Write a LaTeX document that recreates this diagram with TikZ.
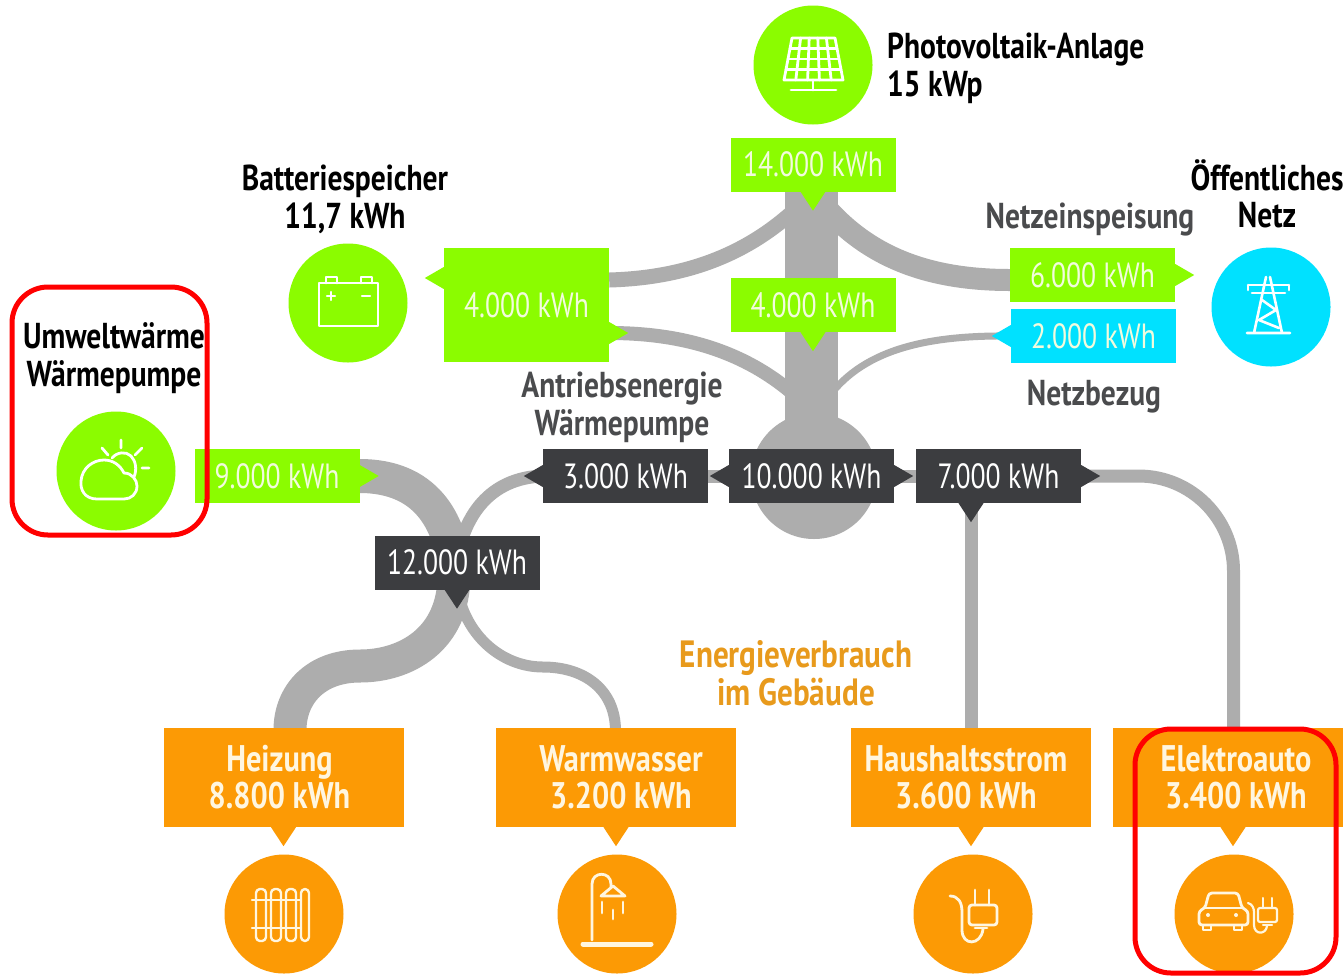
\documentclass[tikz,border=0pt]{standalone}
\usepackage{fontspec}
\setmainfont[FakeStretch=0.79,BoldFeatures={FakeStretch=0.82}]{PT Sans}
\usetikzlibrary{calc,backgrounds}
\definecolor{gn}{HTML}{8BFC00}
\definecolor{og}{HTML}{FC9A05}
\definecolor{bl}{HTML}{00E1FF}
\definecolor{gy}{HTML}{ADADAD}
\definecolor{dk}{HTML}{3C3D40}
\definecolor{tx}{HTML}{4A4B4D}
\definecolor{ot}{HTML}{E89A1C}
\definecolor{lgn}{HTML}{F2FBDD}
\definecolor{cr}{HTML}{FFF6E0}
\newcommand\tipD[3]{\fill[#1] ([xshift={#3pt-12.5pt}]#2.south) -- ([xshift={#3pt+12.5pt}]#2.south) -- ([xshift={#3pt},yshift=-19pt]#2.south) -- cycle;}
\newcommand\tipE[3]{\fill[#1] ([yshift={#3pt-11pt}]#2.east) -- ([yshift={#3pt+11pt}]#2.east) -- ([yshift={#3pt},xshift=19pt]#2.east) -- cycle;}
\newcommand\tipW[3]{\fill[#1] ([yshift={#3pt-11pt}]#2.west) -- ([yshift={#3pt+11pt}]#2.west) -- ([yshift={#3pt},xshift=-19pt]#2.west) -- cycle;}
\tikzset{
 flow/.style={draw=gy,line cap=butt},
 valbox/.style={inner sep=0pt,minimum width=165pt,minimum height=54pt,text=lgn,font=\fontsize{35}{37}\selectfont},
 greenbox/.style={valbox,fill=gn},
 darkbox/.style={valbox,fill=dk,text=white},
 bluebox/.style={valbox,fill=bl},
 usebox/.style={inner sep=0pt,minimum width=240pt,minimum height=99pt,fill=og,text=cr,align=center,font=\fontsize{37}{37}\selectfont\bfseries},
 icondisc/.style={circle,minimum size=119pt,inner sep=0pt},
 head/.style={align=center,text=black,font=\fontsize{36}{38}\selectfont\bfseries,inner sep=0pt},
 sub/.style={align=center,text=tx,font=\fontsize{36}{38}\selectfont\bfseries,inner sep=0pt},
 ico/.style={draw=white,line width=2.8pt,line cap=round,line join=round},
 icoo/.style={draw=cr,line width=2.8pt,line cap=round,line join=round},
 redframe/.style={draw=red,line width=5pt,rounded corners=36pt,inner sep=0pt}
}
\begin{document}
\begin{tikzpicture}[x=1pt,y=-1pt]
\useasboundingbox (0,0) rectangle (1343,975);
% value boxes
\node[greenbox] (g14) at (813,164.5) {14.000 kWh};
\tipD{gn}{g14}{0}
\node[greenbox] (g4m) at (813,305) {4.000 kWh};
\tipD{gn}{g4m}{0}
\node[greenbox] (g6) at (1092.5,275) {6.000 kWh};
\tipE{gn}{g6}{0}
\node[bluebox] (b2) at (1093.5,336) {2.000 kWh};
\tipW{bl}{b2}{0}
\node[greenbox,minimum height=114pt] (g4l) at (526.5,305) {4.000 kWh};
\tipW{gn}{g4l}{27}
\tipE{gn}{g4l}{-28}
\node[greenbox] (g9) at (277,476) {9.000 kWh};
\tipE{gn}{g9}{0}
\node[darkbox] (d12) at (457,562.5) {12.000 kWh};
\tipD{dk}{d12}{0}
\node[darkbox] (d3) at (625.5,476) {3.000 kWh};
\tipW{dk}{d3}{0}
\node[darkbox] (d10) at (811.5,476) {10.000 kWh};
\tipW{dk}{d10}{0}
\tipE{dk}{d10}{0}
\node[darkbox] (d7) at (998.5,476) {7.000 kWh};
\tipE{dk}{d7}{0}
\tipD{dk}{d7}{-27.5}
% consumer boxes
\node[usebox] (heiz) at (283.5,777.5) {\hspace*{-8pt}Heizung\\\hspace*{-8pt}8.800 kWh};
\tipD{og}{heiz}{0}
\node[usebox] (warm) at (616,777.5) {\hspace*{10pt}Warmwasser\\\hspace*{10pt}3.200 kWh};
\tipD{og}{warm}{0}
\node[usebox] (haus) at (971,777.5) {\hspace*{-10pt}Haushaltsstrom\\\hspace*{-10pt}3.600 kWh};
\tipD{og}{haus}{0}
\node[usebox] (elek) at (1233,777.5) {\hspace*{6pt}Elektroauto\\\hspace*{6pt}3.400 kWh};
\tipD{og}{elek}{0}
\fill[og] (elek.north east) rectangle (1343,827);
% junction points of the flows
\coordinate (jr) at (822,203);
\coordinate (jl) at (800,205);
\coordinate (jl2) at (798,398);
\coordinate (jb) at (825,402);
\coordinate (x12) at (455,570);
\coordinate (x12b) at (454,575);
\coordinate (x12c) at (459,597);
\coordinate (hmid) at (360,666);
\coordinate (wmid) at (543,667);
\coordinate (heizin) at (290,730);
\coordinate (warmin) at (615.5,730);
\coordinate (elin) at (1233.5,730);
% flows behind the boxes
\begin{scope}[on background layer]
\fill[white] (0,0) rectangle (1343,975);
\node[fill=gy,inner sep=0pt,minimum width=53pt,minimum height=249pt] (bar) at (811.5,315) {};
\node[circle,fill=gy,inner sep=0pt,minimum size=126pt] (hub) at (814,476) {};
\draw[flow,line width=22pt] (jr) .. controls (868,258) and (930,280) .. ([yshift=-5pt]g6.west);
\draw[flow,line width=15pt] ([yshift=25pt]g4l.east) .. controls (680,278) and (745,258) .. (jl);
\draw[flow,line width=14pt] ([yshift=-28pt]g4l.east) .. controls (680,333) and (745,350) .. (jl2);
\draw[flow,line width=7pt] (b2.west) .. controls (925,335) and (860,350) .. (jb);
\draw[flow,line width=13pt] (d3.east) -- (d10.west);
\draw[flow,line width=13pt] (d10.east) -- (d7.west);
\draw[flow,line width=13pt] (d7.south -| haus.north) -- (haus.north);
\draw[flow,line width=13pt,rounded corners=95pt] (d7.east) -| (elin);
\draw[flow,line width=34pt] (g9.east) .. controls (425,476) and (450,520) .. (x12);
\draw[flow,line width=33pt] (x12b) .. controls (454,640) and (405,666) .. (hmid) .. controls (315,666) and (290,695) .. (heizin);
\draw[flow,line width=13pt] (d3.west) .. controls (490,478) and (462,515) .. (x12);
\draw[flow,line width=11pt] (x12c) .. controls (470,640) and (505,667) .. (wmid) .. controls (585,667) and (615,690) .. (warmin);
\end{scope}
% discs
\node[icondisc,fill=gn] (pv) at (813,65) {};
\node[icondisc,fill=gn] (bat) at (348,303) {};
\node[icondisc,fill=gn] (env) at (116,471) {};
\node[icondisc,fill=bl] (grid) at (1271,307) {};
\node[icondisc,fill=og] (c1) at (284,914) {};
\node[icondisc,fill=og] (c2) at (617,914) {};
\node[icondisc,fill=og] (c3) at (973,914) {};
\node[icondisc,fill=og] (c4) at (1234,914) {};
% panel
\draw[ico] (792,38) -- (835,38) -- (843,80) -- (784,80) -- cycle;
\foreach \t in {0.25,0.5,0.75}{\draw[ico] ($(792,38)!\t!(784,80)$) -- ($(835,38)!\t!(843,80)$);}
\foreach \t in {0.2,0.4,0.6,0.8}{\draw[ico] ($(792,38)!\t!(835,38)$) -- ($(784,80)!\t!(843,80)$);}
\draw[ico] (813,80) -- (813,90) (791,90) -- (836,90);
% battery
\draw[ico] (319,283) rectangle (378,326);
\draw[ico] (326,283) -- (326,277) -- (337,277) -- (337,283) (361,283) -- (361,277) -- (372,277) -- (372,283);
\draw[ico,line width=2.2pt] (327,296) -- (335,296) (331,292) -- (331,300) (362,296) -- (370,296);
% cloud
\draw[ico] (97,499) .. controls (85,499) and (80,490) .. (81,481) .. controls (82,468) and (93,460) .. (104,460) .. controls (113,460) and (120,465) .. (124,473) .. controls (132,473) and (137,480) .. (137,486) .. controls (137,494) and (131,499) .. (124,499) -- cycle;
\draw[ico] (112,458) .. controls (117,452) and (126,451) .. (131,456) .. controls (136,461) and (137,470) .. (134,477);
\draw[ico] (121,440) -- (121,448) (102,448) -- (108,455) (142,448) -- (135,455) (142,468) -- (149,468);
% tower
\draw[ico,line width=2.6pt] (1266,277) -- (1254,333) (1270,277) -- (1282,333) (1247,333) -- (1290,333);
\draw[ico,line width=2.6pt] (1248,285) -- (1289,285) (1252,293) -- (1285,293) (1248,285) -- (1248,290) (1289,285) -- (1289,290);
\draw[ico,line width=2.6pt] (1262,300) -- (1276,310) -- (1259,320) -- (1279,328);
% radiator
\foreach \a/\b in {256/266,271/281,286/296,301/309}{\draw[icoo,line width=2.4pt,rounded corners=4pt] (\a,889) rectangle (\b,941);}
\draw[icoo,line width=2.4pt] (252,900) -- (301,900) (252,928) -- (301,928);
% shower
\draw[icoo] (592,940) -- (592,884) .. controls (592,871) and (611,871) .. (611,884) -- (611,887);
\draw[icoo] (613,886) -- (601,896) -- (625,896) -- cycle;
\draw[icoo] (602,902) -- (602,913) (613,910) -- (613,919) (623,902) -- (623,913);
\draw[icoo,line width=5pt] (583,944) -- (651,944);
% plug
\draw[icoo] (975,890) -- (975,905) (989,890) -- (989,905);
\draw[icoo,rounded corners=3pt] (969,905) rectangle (997,925);
\draw[icoo] (975,928) -- (987,928);
\draw[icoo] (950,896) .. controls (958,896) and (962,902) .. (962,912) -- (962,930) .. controls (962,946) and (981,946) .. (983,929);
% car
\draw[icoo,rounded corners=3pt] (1199,925) -- (1199,911) -- (1205,908) -- (1209,893) -- (1238,893) -- (1242,908) -- (1248,911) -- (1248,925) -- cycle;
\draw[icoo] (1205,908) -- (1242,908);
\draw[icoo] (1203,926) -- (1203,930) -- (1211,930) -- (1211,926) (1234,926) -- (1234,930) -- (1242,930) -- (1242,926);
\fill[cr] (1208,915) circle (2pt) (1236,915) circle (2pt);
\draw[icoo,line width=2.2pt] (1263,898) -- (1263,908) (1272,898) -- (1272,908);
\draw[icoo,line width=2.2pt,rounded corners=2pt] (1258,908) rectangle (1277,922);
\draw[icoo,line width=2.2pt] (1263,925) -- (1272,925);
\draw[icoo,line width=2.2pt] (1248,903) .. controls (1252,904) and (1254,908) .. (1254,912) -- (1254,925) .. controls (1254,935) and (1266,935) .. (1267,926);
% labels
\node[head,anchor=west] (lpv) at (887,70) {\begin{tabular}{@{}l@{}}Photovoltaik-Anlage\\15 kWp\end{tabular}};
\node[head] (lbat) at (345,199) {Batteriespeicher\\11,7 kWh};
\node[head,font=\fontsize{36}{37}\selectfont\bfseries] (lnet) at (1267,194) {Öffentliches\\Netz};
\node[head] (lenv) at (114,358) {Umweltwärme\\Wärmepumpe};
\node[sub] (lein) at (1090,220) {Netzeinspeisung};
\node[sub] (lbez) at (1094,397) {Netzbezug};
\node[sub] (lant) at (622,407) {Antriebsenergie\\Wärmepumpe};
\node[sub,text=ot,font=\fontsize{38}{38}\selectfont\bfseries] (lver) at (796,673) {Energieverbrauch\\im Gebäude};
% highlights
\node[redframe,minimum width=195pt,minimum height=248pt] (r1) at (109.5,411) {};
\node[redframe,minimum width=201pt,minimum height=244pt] (r2) at (1235.5,851) {};
\end{tikzpicture}
\end{document}
